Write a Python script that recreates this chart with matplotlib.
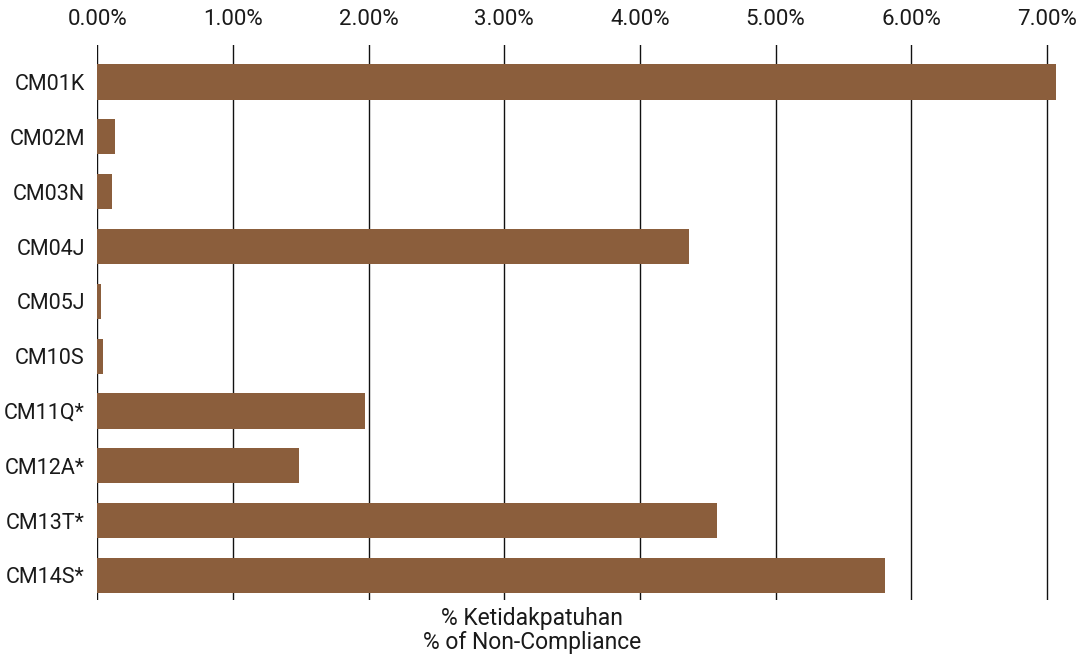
import matplotlib
matplotlib.use("Agg")
import matplotlib.pyplot as plt
from matplotlib.ticker import FuncFormatter

# data
codes = ["CM01K", "CM02M", "CM03N", "CM04J", "CM05J", "CM10S",
         "CM11Q*", "CM12A*", "CM13T*", "CM14S*"]
pct_non_compliance = [7.07, 0.13, 0.11, 4.36, 0.03, 0.04, 1.97, 1.49, 4.57, 5.81]
x_ticks = [0, 1, 2, 3, 4, 5, 6, 7]

bar_color = "#8B5E3C"
plt.rcParams['font.family'] = ['Roboto', 'DejaVu Sans']

fig = plt.figure(figsize=(10.86, 6.57), dpi=100)
ax = fig.add_axes([97.3 / 1086, 1 - 600 / 657, (1074 - 97.3) / 1086, (600 - 45) / 657])

ypos = list(range(len(codes)))
ax.barh(ypos, pct_non_compliance, height=0.64, color=bar_color, zorder=3)

ax.set_xlim(0, 7.2)
ax.set_ylim(len(codes) - 0.553, -0.675)
ax.set_yticks(ypos)
ax.set_yticklabels(codes, fontsize=15.5, color="#1a1a1a")
ax.set_xticks(x_ticks)
ax.xaxis.set_major_formatter(FuncFormatter(lambda v, p: f"{v:.2f}%"))
ax.xaxis.tick_top()
ax.tick_params(axis='x', length=0, pad=11, labelsize=16, labelcolor="#1a1a1a")
ax.tick_params(axis='y', length=0, pad=9)

ax.grid(axis='x', color="#111111", linewidth=1.0, zorder=1)
for s in ax.spines.values():
    s.set_visible(False)

# two-line axis title under the chart
fig.text(532 / 1086, 1 - 625 / 657, "% Ketidakpatuhan", ha='center', va='baseline',
         fontsize=16.5, color="#1a1a1a")
fig.text(532 / 1086, 1 - 649 / 657, "% of Non-Compliance", ha='center', va='baseline',
         fontsize=16.5, color="#1a1a1a")

fig.savefig("out.png", dpi=100)
